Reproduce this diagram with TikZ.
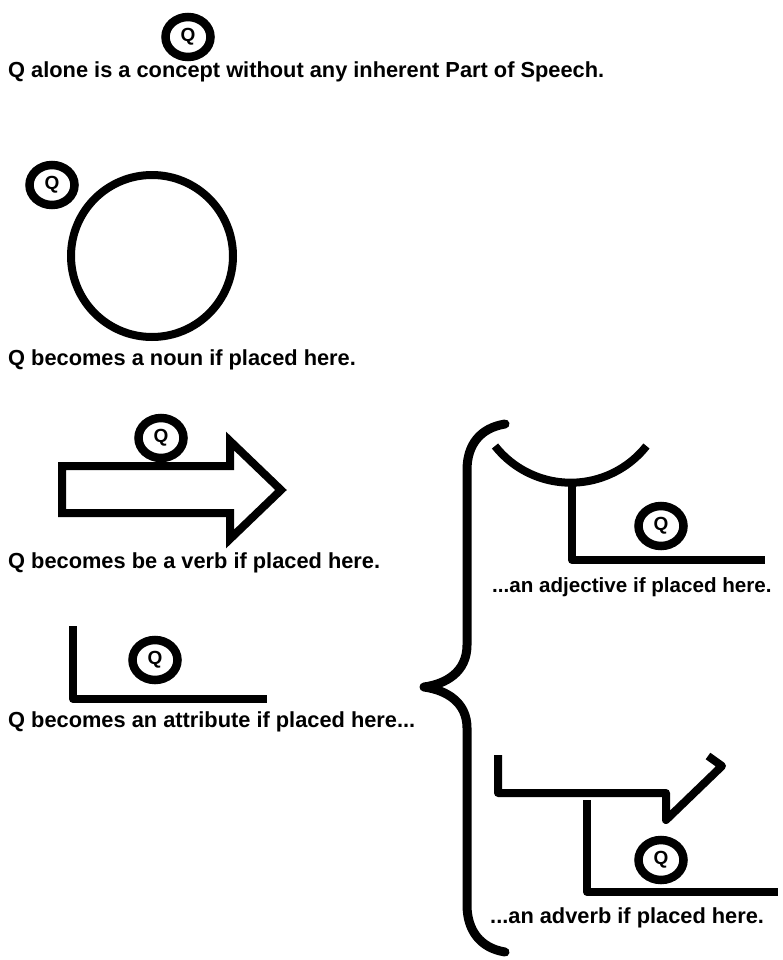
\documentclass[tikz,border=0pt]{standalone}
\usepackage{fontspec}
\setmainfont{Liberation Sans}
\usepackage{tikz}
\usetikzlibrary{shapes.geometric,positioning}
\tikzset{
  qmark/.style={ellipse,draw,line width=8.5pt,minimum width=45pt,minimum height=40pt,inner sep=0pt,font=\fontsize{19}{19}\selectfont\bfseries},
  caption/.style={anchor=base west,inner sep=0pt,font=\fontsize{21.8}{24}\selectfont\bfseries},
  thick stroke/.style={line width=8pt,line join=round},
  brace stroke/.style={line width=9pt,line cap=round,line join=round}
}

\begin{document}
\begin{tikzpicture}[x=1pt,y=-1pt]
  \useasboundingbox (0,0) rectangle (783,960);
  % Q alone
  \node[qmark] (q0) at (188,37) {Q};
  \node[caption] (t0) at (8,78) {Q alone is a concept without any inherent Part of Speech.};
  % noun
  \draw[thick stroke] (152,256) circle[radius=81];
  \node[qmark] (q1) at (52,185) {Q};
  \node[caption] (t1) at (8,365) {Q becomes a noun if placed here.};
  % verb
  \draw[line width=8pt,line join=miter] (62,466) -- (230,466) -- (230,441) -- (281,490)
    -- (230,539) -- (230,513) -- (62,513) -- cycle;
  \node[qmark] (q2) at (161,438) {Q};
  \node[caption] (t2) at (8,568) {Q becomes be a verb if placed here.};
  % attribute
  \draw[thick stroke] (73,626) -- (73,699) -- (267,699);
  \node[qmark] (q3) at (155,660) {Q};
  \node[caption] (t3) at (8,727) {Q becomes an attribute if placed here...};
  % brace
  \draw[brace stroke] (505,424) .. controls (480,428) and (467,445) .. (467,470) -- (467,645)
    .. controls (467,672) and (446,684) .. (424,687)
    .. controls (446,690) and (467,702) .. (467,728) -- (467,905)
    .. controls (467,930) and (480,948) .. (505,952);
  % adjective
  \draw[thick stroke] (495,446) arc[start angle=141.7,end angle=38.3,radius=96.5];
  \draw[thick stroke] (572,483) -- (572,560) -- (765,560);
  \node[qmark] (q4) at (661,526) {Q};
  \node[caption,font=\fontsize{20.6}{24}\selectfont\bfseries] (t4) at (492,592) {...an adjective if placed here.};
  % adverb
  \draw[thick stroke] (498,755) -- (498,793) -- (666,793) -- (666,820) -- (722,766) -- (708,756);
  \draw[thick stroke] (587,800) -- (587,892) -- (778,892);
  \node[qmark] (q5) at (661,860) {Q};
  \node[caption] (t5) at (490,923) {...an adverb if placed here.};
\end{tikzpicture}
\end{document}
